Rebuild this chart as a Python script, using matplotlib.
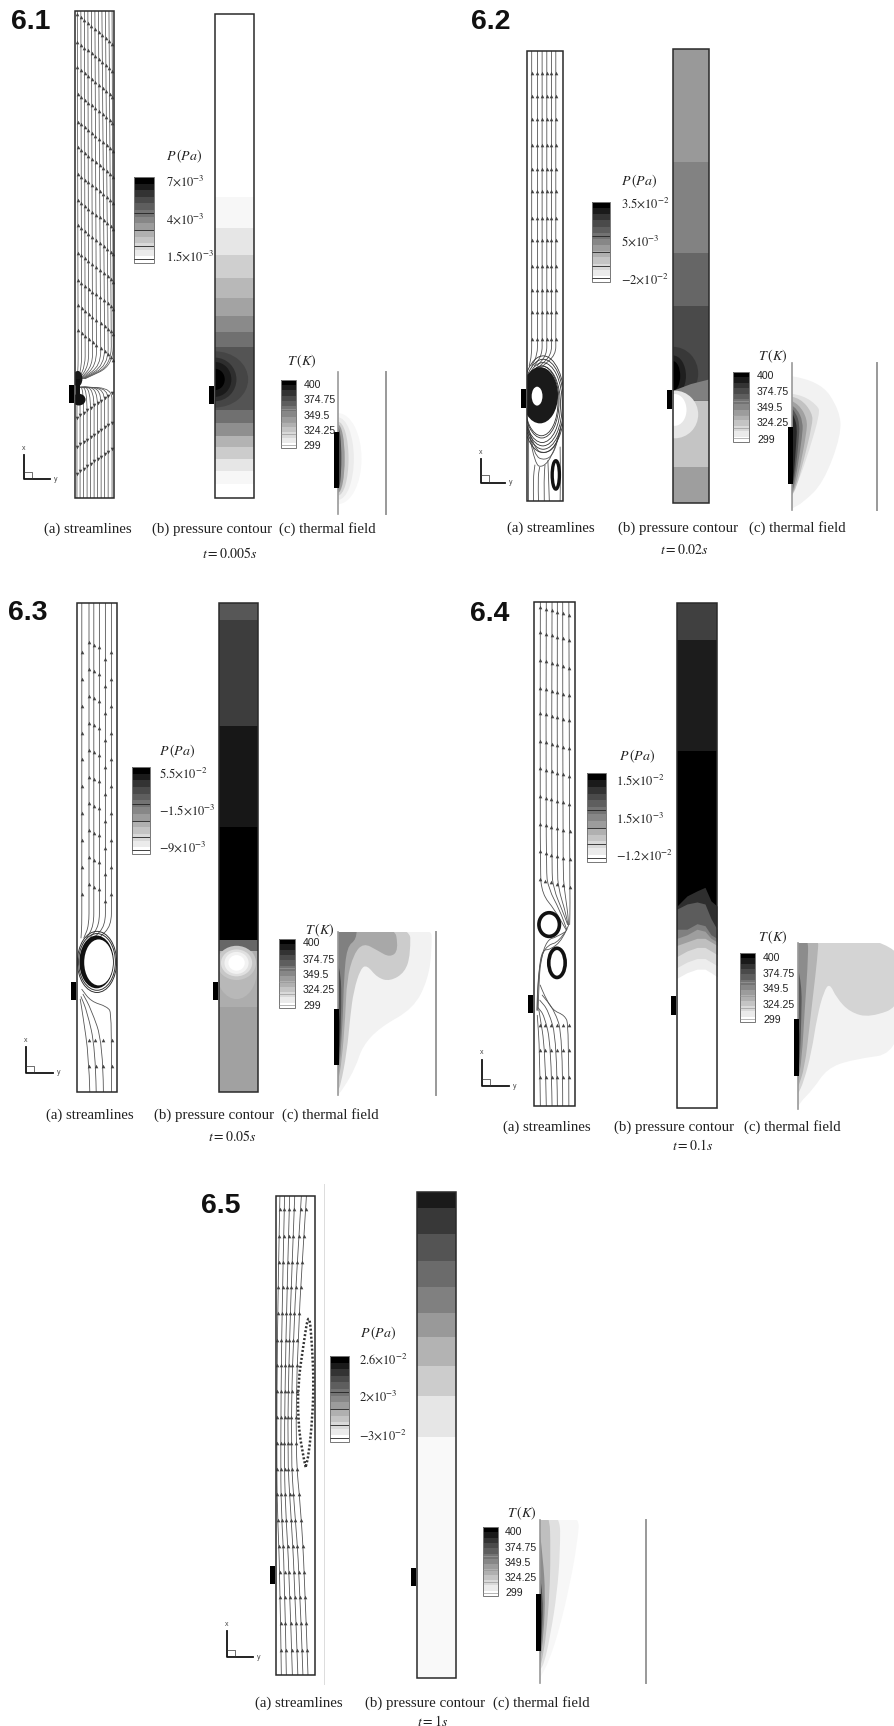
import numpy as np
import matplotlib
matplotlib.use('Agg')
import matplotlib.pyplot as plt
from matplotlib.path import Path
from matplotlib.patches import PathPatch, Ellipse, Rectangle

plt.rcParams['mathtext.fontset'] = 'stix'
W, H = 894, 1726
fig = plt.figure(figsize=(W / 100, H / 100), dpi=100, facecolor='white')

# labels
titles = ['6.1', '6.2', '6.3', '6.4', '6.5']
times = ['$t=0.005s$', '$t=0.02s$', '$t=0.05s$', '$t=0.1s$', '$t=1s$']
p_ticks = [[r'$7{\times}10^{-3}$', r'$4{\times}10^{-3}$', r'$1.5{\times}10^{-3}$'],
           [r'$3.5{\times}10^{-2}$', r'$5{\times}10^{-3}$', r'$-2{\times}10^{-2}$'],
           [r'$5.5{\times}10^{-2}$', r'$-1.5{\times}10^{-3}$', r'$-9{\times}10^{-3}$'],
           [r'$1.5{\times}10^{-2}$', r'$1.5{\times}10^{-3}$', r'$-1.2{\times}10^{-2}$'],
           [r'$2.6{\times}10^{-2}$', r'$2{\times}10^{-3}$', r'$-3{\times}10^{-2}$']]
t_ticks = ['400', '374.75', '349.5', '324.25', '299']
captions = ['(a) streamlines', '(b) pressure contour', '(c) thermal field']

# legend shades, dark to white
legend_grays = [0.0, 0.1, 0.2, 0.29, 0.37, 0.45, 0.53, 0.61, 0.69, 0.77, 0.85, 0.92, 1.0]
legend_lines = [0.05, 0.2, 0.38, 0.58]

# pressure bands: edges along the channel (1 = top), one shade per band
p1_edges = [1, .621, .558, .503, .455, .414, .376, .343, .313, .181, .155, .128, .106, .080, .055, .029, 0]
p1_grays = [1, .97, .90, .81, .72, .64, .54, .44, .33, .44, .56, .70, .80, .90, .97, 1]
p1_spots = [(.85, .058, .27), (.55, .045, .18), (.42, .036, .1), (.25, .022, 0)]
p2_edges = [1, .752, .551, .433, .225, .079, 0]
p2_grays = [.60, .51, .40, .29, .77, .62]
p3_edges = [1, .966, .749, .541, .311, .173, 0]
p3_grays = [.34, .24, .09, 0, .68, .63]
p4_edges = [1, .926, .706, .40, 0]
p4_grays = [.25, .11, 0, 0]
p4_s = [0, .25, .5, .7, .85, 1]
p4_fronts = [([.40, .42, .43, .437, .41, .40], .18),
             ([.394, .404, .408, .404, .375, .354], .36),
             ([.354, .354, .365, .361, .343, .336], .5),
             ([.336, .343, .354, .35, .336, .329], .62),
             ([.322, .329, .336, .336, .329, .322], .75),
             ([.30, .311, .318, .318, .311, .304], .86),
             ([.278, .289, .296, .296, .289, .282], .93),
             ([.257, .268, .275, .275, .268, .26], 1.0)]
p5_edges = [1, .968, .914, .859, .805, .752, .701, .642, .58, .496, 0]
p5_grays = [.1, .22, .33, .42, .5, .6, .7, .8, .9, .975]

# thermal layers: outline points (across, along), one shade each
t1_layers = [(.49, .32, .97), (.33, .29, .92), (.22, .26, .82), (.14, .24, .6), (.07, .22, .3)]
t2_layers = [([(0, .91), (.33, .88), (.56, .68), (.58, .51), (.37, .185), (.13, .05), (0, .01)], .95),
             ([(0, .79), (.13, .78), (.3, .71), (.33, .66), (.2, .40), (.08, .2), (0, .1)], .88),
             ([(0, .77), (.1, .76), (.24, .66), (.24, .58), (.13, .32), (.05, .15), (0, .1)], .76),
             ([(0, .74), (.08, .72), (.18, .62), (.17, .52), (.09, .28), (.03, .14), (0, .11)], .63),
             ([(0, .71), (.06, .69), (.13, .6), (.12, .5), (.06, .27), (.02, .15), (0, .12)], .48),
             ([(0, .69), (.05, .66), (.09, .58), (.08, .48), (.04, .26), (0, .13)], .33),
             ([(0, .66), (.03, .63), (.06, .56), (.05, .46), (.025, .26), (0, .14)], .15)]
t3_layers = [([(0, 1.06), (.95, 1.06), (.96, .9), (.92, .71), (.77, .53), (.43, .416), (.25, .30), (.18, .17), (.06, .045), (0, 0)], .95),
             ([(0, 1.06), (.735, 1.06), (.74, .865), (.685, .753), (.53, .697), (.40, .72), (.295, .798), (.23, .775), (.16, .64), (.125, .483), (.09, .26), (.025, .056), (0, .03)], .8),
             ([(0, 1.06), (.57, 1.06), (.62, .888), (.53, .843), (.40, .888), (.26, .933), (.16, .865), (.09, .708), (.075, .483), (.04, .213), (0, .08)], .66),
             ([(0, 1.06), (.19, 1.06), (.19, .955), (.09, .91), (.06, .708), (.05, .483), (.025, .236), (0, .12)], .5),
             ([(0, .8), (.03, .75), (.035, .55), (.02, .28), (0, .15)], .3),
             ([(0, .58), (.018, .5), (.012, .3), (0, .17)], .12)]
t4_layers = [([(0, 1.06), (1.1, 1.06), (1.1, .34), (.55, .297), (.30, .242), (.16, .121), (.01, .033), (0, 0)], .95),
             ([(0, 1.06), (1.1, 1.06), (1.1, .627), (.75, .55), (.54, .583), (.40, .67), (.33, .758), (.27, .71), (.2, .56), (.14, .34), (.06, .165), (0, .09)], .83),
             ([(0, 1.06), (.22, 1.06), (.2, .9), (.16, .7), (.12, .5), (.07, .25), (0, .13)], .7),
             ([(0, 1.06), (.11, 1.06), (.1, .85), (.07, .6), (.04, .3), (0, .17)], .55),
             ([(0, .85), (.04, .75), (.035, .55), (.02, .3), (0, .19)], .35),
             ([(0, .6), (.015, .5), (.01, .3), (0, .2)], .12)]
t5_layers = [([(0, 1.06), (.38, 1.06), (.35, .85), (.28, .6), (.19, .35), (.09, .14), (0, .03)], .97),
             ([(0, 1.06), (.19, 1.06), (.19, .8), (.16, .55), (.1, .3), (.04, .12), (0, .08)], .88),
             ([(0, 1.06), (.09, 1.06), (.1, .8), (.09, .55), (.06, .3), (.02, .14), (0, .1)], .75),
             ([(0, .92), (.03, .75), (.05, .55), (.035, .3), (0, .13)], .55),
             ([(0, .65), (.03, .55), (.02, .3), (0, .16)], .3),
             ([(0, .57), (.014, .45), (.01, .3), (0, .18)], .1)]

# streamlines of 6.1
s1_top = [.06, .15, .24, .33, .42, .51, .60, .69, .78, .87, .95]
s1_mid = [.08, .17, .26, .35, .45, .55, .66, .76, .85, .93, .98]
s1_turn = [.30, .31, .31, .32, .32, .33, .33, .34, .34, .35, .35]
s1_end = [.06, .08, .10, .12, .14, .16, .18, .20, .22, .24, .26]
s1_rows = [.993, .937, .884, .83, .773, .72, .666, .612, .56, .504, .448, .396, .344]
s1_low = [.05, .13, .22, .31, .40, .49, .58, .67, .76, .85, .95]
s1_low_turn = [.10, .11, .11, .12, .13, .14, .15, .16, .17, .18, .18]
s1_low_rows = [.165, .105, .05]

# streamlines of 6.2
s2_top = [.13, .29, .42, .55, .68, .80]
s2_end = [.06, .13, .20, .28, .36, .44]
s2_rows = [.952, .90, .849, .792, .738, .689, .628, .58, .523, .468, .419, .361]
s2_rings = [(.45, .215, 1.2, .215), (.45, .215, 1.14, .2), (.44, .215, 1.08, .185), (.42, .215, 1.02, .17),
            (.41, .22, .96, .16), (.40, .22, .92, .15)]
s2_low = [[(.05, .16), (.2, .115), (.5, .105), (.8, .12), (.95, .17)],
          [(.07, .15), (.2, .10), (.5, .09), (.75, .105), (.93, .16)],
          [(.08, .14), (.22, .08), (.45, .075), (.7, .1), (.9, .15)],
          [(.18, 0), (.17, .05), (.22, .08)], [(.32, 0), (.3, .05), (.35, .075)],
          [(.48, 0), (.47, .05), (.5, .08)], [(.62, 0), (.6, .05), (.58, .09)],
          [(.92, 0), (.93, .05), (.92, .12)], [(.04, 0), (.05, .08), (.04, .17)]]

# streamlines of 6.3
s3_top = [.12, .30, .42, .56, .71, .86]
s3_end = [.10, .17, .24, .32, .42, .55]
s3_shift = [.0, .02, .015, .01, -.015, .0]
s3_rows = [.90, .845, .79, .735, .68, .625, .57, .515, .46, .405]
s3_low = [[(.32, 0), (.3, .07), (.14, .16), (.08, .19)],
          [(.48, 0), (.46, .09), (.25, .165), (.10, .195)],
          [(.66, 0), (.65, .10), (.35, .17), (.15, .20)],
          [(.86, 0), (.88, .16), (.75, .175), (.35, .185), (.12, .21)]]
s3_low_rows = [.106, .054]
s3_rings = [(.5, .266, .98, .125), (.5, .266, .92, .116)]

# streamlines of 6.4
s4_top = [[(.155, 1), (.14, .47), (.2, .42), (.5, .39), (.78, .35)],
          [(.30, 1), (.28, .47), (.36, .43), (.62, .39), (.8, .35)],
          [(.44, 1), (.42, .47), (.48, .43), (.68, .39), (.82, .36)],
          [(.57, 1), (.56, .47), (.6, .43), (.75, .39), (.83, .36)],
          [(.70, 1), (.70, .47), (.74, .43), (.83, .38), (.84, .36)],
          [(.85, 1), (.87, .47), (.88, .40), (.87, .36)]]
s4_mid = [[(.85, .36), (.7, .33), (.4, .31), (.2, .31), (.12, .27), (.08, .22), (.07, .19)],
          [(.8, .35), (.6, .325), (.35, .32), (.18, .30), (.1, .25), (.08, .19)],
          [(.75, .345), (.55, .335), (.32, .33), (.16, .29), (.12, .24), (.1, .19)]]
s4_low = [[(.155, 0), (.14, .11), (.08, .18)], [(.30, 0), (.28, .11), (.12, .19)],
          [(.44, 0), (.42, .12), (.25, .18), (.1, .195)], [(.57, 0), (.56, .13), (.35, .19), (.14, .21)],
          [(.70, 0), (.70, .14), (.5, .19), (.2, .22)], [(.85, 0), (.85, .16), (.75, .18), (.45, .19), (.25, .22), (.15, .24)]]
s4_rows = [.99, .94, .885, .83, .78, .725, .67, .615, .56, .505, .45]
s4_low_rows = [.16, .111, .058]

# streamlines of 6.5
s5_lines = [[(.137, 0), (.10, .215), (.03, .35), (.02, .46), (.03, .70), (.10, 1)],
            [(.265, 0), (.22, .215), (.13, .35), (.12, .46), (.14, .70), (.22, 1)],
            [(.42, 0), (.34, .215), (.24, .35), (.21, .46), (.25, .70), (.35, 1)],
            [(.56, 0), (.47, .215), (.37, .35), (.29, .46), (.34, .70), (.48, 1)],
            [(.69, 0), (.60, .215), (.47, .35), (.38, .46), (.43, .70), (.65, 1)],
            [(.82, 0), (.73, .215), (.63, .35), (.50, .46), (.55, .70), (.78, 1)]]
s5_rows = [.972, .917, .862, .809, .755, .70, .647, .592, .538, .484, .43, .377, .323, .269, .215, .163, .108, .052]
s5_loop = [(.76, .434), (.65, .475), (.565, .534), (.565, .608), (.69, .682), (.846, .764), (.93, .682),
           (.966, .608), (.93, .534), (.84, .46), (.76, .434)]

# panel placement, picture pixels: left, top, right, bottom
layout = [
    dict(title=(11, 22), stream=(75, 11, 114, 498), press=(215, 14, 254, 498), heat=(.232, .195),
         pbar=(134, 177, 154, 263), plab=(166, 156), pt=(166, [181, 219, 256]),
         tbar=(281, 380, 296, 448), tlab=(287, 361), tt=(304, [385, 400, 416, 431, 446]),
         therm=(338, 372, 386, 514), tright=True, theat=(.574, .185),
         cap=[(88, 529), (212, 529), (327, 529)], time=(230, 554), triad=(24, 479, 455, 50)),
    dict(title=(471, 22), stream=(527, 51, 563, 501), press=(673, 49, 709, 503), heat=(.248, .207),
         pbar=(592, 202, 610, 282), plab=(621, 181), pt=(621, [203, 241, 279]),
         tbar=(733, 372, 749, 442), tlab=(758, 356), tt=(757, [376, 392, 408, 423, 440]),
         therm=(792, 363, 877, 510), tright=True, theat=(.563, .175),
         cap=[(551, 528), (678, 528), (797, 528)], time=(684, 550), triad=(481, 482, 459, 505)),
    dict(title=(8, 613), stream=(77, 603, 117, 1092), press=(219, 603, 258, 1092), heat=(.225, .189),
         pbar=(132, 767, 150, 854), plab=(159, 751), pt=(159, [773, 810, 847]),
         tbar=(279, 939, 295, 1008), tlab=(305, 930), tt=(303, [943, 960, 975, 990, 1006]),
         therm=(338, 932, 436, 1095), tright=True, theat=(.528, .187),
         cap=[(90, 1115), (214, 1115), (330, 1115)], time=(232, 1136), triad=(26, 1073, 1047, 53)),
    dict(title=(470, 614), stream=(534, 602, 575, 1106), press=(677, 603, 717, 1108), heat=(.221, .184),
         pbar=(587, 773, 606, 862), plab=(619, 756), pt=(616, [780, 818, 855]),
         tbar=(740, 953, 755, 1022), tlab=(758, 937), tt=(763, [958, 974, 989, 1005, 1020]),
         therm=(798, 943, 894, 1109), tright=False, theat=(.543, .2),
         cap=[(547, 1127), (674, 1127), (792, 1127)], time=(693, 1145), triad=(482, 1086, 1060, 509)),
    dict(title=(201, 1206), stream=(276, 1196, 315, 1675), press=(417, 1192, 456, 1678), heat=(.227, .189),
         pbar=(330, 1356, 349, 1442), plab=(360, 1333), pt=(359, [1359, 1396, 1435]),
         tbar=(483, 1527, 498, 1596), tlab=(507, 1513), tt=(505, [1532, 1548, 1563, 1578, 1593]),
         therm=(540, 1520, 646, 1683), tright=True, theat=(.545, .198),
         cap=[(299, 1703), (425, 1703), (541, 1703)], time=(433, 1721), triad=(227, 1657, 1631, 253)),
]


def px_axes(box, z=1):
    x0, y0, x1, y1 = box
    ax = fig.add_axes([x0 / W, 1 - y1 / H, (x1 - x0) / W, (y1 - y0) / H], zorder=z)
    ax.set_xlim(0, 1)
    ax.set_ylim(0, 1)
    ax.axis('off')
    return ax


def px_text(x, y, s, **kw):
    kw.setdefault('va', 'center')
    fig.text(x / W, 1 - y / H, s, zorder=20, **kw)


def smooth(pts, closed=False):
    pts = np.array(pts, dtype=float)
    verts, codes = [pts[0]], [Path.MOVETO]
    for i in range(1, len(pts) - 1):
        verts += [pts[i], (pts[i] + pts[i + 1]) / 2]
        codes += [Path.CURVE3, Path.CURVE3]
    verts.append(pts[-1])
    codes.append(Path.LINETO)
    if closed:
        verts.append(pts[0])
        codes.append(Path.CLOSEPOLY)
    return Path(verts, codes)


def stream(ax, pts, lw=.6, color='#555555', ls='-', cap='round'):
    ax.add_patch(PathPatch(smooth(pts), fc='none', ec=color, lw=lw, ls=ls, capstyle=cap))


def heads(ax, lines, rows, shifts=None, slope=0, marker='^'):
    for j, line in enumerate(lines):
        pts = np.array(line, dtype=float)
        order = np.argsort(pts[:, 1])
        for r in rows:
            h = r - slope * j / (len(lines) - 1)
            if shifts is not None:
                h += shifts[j]
            s = np.interp(h, pts[order, 1], pts[order, 0])
            ax.plot(s, h, marker, ms=2.6, color='#444444', mew=0, zorder=5)


def frame(ax, lw=1.1):
    ax.add_patch(Rectangle((0, 0), 1, 1, fc='none', ec='#2a2a2a', lw=lw, clip_on=False, zorder=8))


def gray(v):
    return str(v)


def bands(ax, edges, grays):
    for k in range(len(grays)):
        ax.fill_between([0, 1], edges[k + 1], edges[k], color=gray(grays[k]), lw=0)


def layers(ax, items):
    for pts, g in items:
        ax.add_patch(PathPatch(smooth(pts, closed=True), fc=gray(g), ec='none'))


def legend_bar(box, line_color, line_width):
    ax = px_axes(box, 3)
    n = len(legend_grays)
    ax.barh(np.arange(n)[::-1] / n, 1, height=1 / n, align='edge', color=[gray(g) for g in legend_grays], lw=0)
    ax.hlines(legend_lines, 0, 1, color=line_color, lw=line_width)
    ax.add_patch(Rectangle((0, 0), 1, 1, fc='none', ec='#777777', lw=.7, clip_on=False))


# ---- stream panels
ax = px_axes(layout[0]['stream'])
lines1 = []
for t, m, tn, e in zip(s1_top, s1_mid, s1_turn, s1_end):
    pts = [(t, 1), (m, tn), (m, .272), (e, .245)]
    stream(ax, pts, lw=.55)
    lines1.append(pts[:2])
heads(ax, lines1, s1_rows, slope=.06)
low1 = []
for b, tn, e in zip(s1_low, s1_low_turn, s1_end):
    pts = [(b, 0), (b, tn), (b, .225), (e, .228)]
    stream(ax, pts, lw=.55)
    low1.append(pts[:2])
heads(ax, low1, s1_low_rows, slope=-.05, marker='v')
ax.add_patch(Ellipse((.07, .245), .24, .032, fc='#1a1a1a', ec='none', zorder=4))
ax.add_patch(Ellipse((.10, .202), .34, .024, fc='#111111', ec='none', zorder=4))
ax.add_patch(Rectangle((.02, .205), .1, .04, fc='#111111', ec='none', zorder=4))

ax = px_axes(layout[1]['stream'])
lines2 = []
for t, e in zip(s2_top, s2_end):
    pts = [(t, 1), (t, .36), (t, .325), (e, .30)]
    stream(ax, pts)
    lines2.append(pts[:2])
heads(ax, lines2, s2_rows)
for x, y, w, h in s2_rings:
    ax.add_patch(Ellipse((x, y), w, h, fc='none', ec='#333333', lw=.6, zorder=2))
ax.add_patch(Ellipse((.36, .235), 1.0, .125, fc='#1a1a1a', ec='none', zorder=3))
ax.add_patch(Ellipse((.28, .233), .30, .042, fc='white', ec='none', zorder=4))
for line in s2_low:
    stream(ax, line)
ax.add_patch(Ellipse((.80, .058), .2, .063, fc='none', ec='#111111', lw=2.4, zorder=4))

ax = px_axes(layout[2]['stream'])
lines3 = []
for t, e in zip(s3_top, s3_end):
    pts = [(t, 1), (t, .39), (t, .34), (e, .315)]
    stream(ax, pts)
    lines3.append(pts[:2])
heads(ax, lines3, s3_rows, shifts=s3_shift)
for x, y, w, h in s3_rings:
    ax.add_patch(Ellipse((x, y), w, h, fc='none', ec='#333333', lw=.7, zorder=3))
ax.add_patch(Ellipse((.49, .266), .86, .108, fc='#111111', ec='none', zorder=3))
ax.add_patch(Ellipse((.54, .265), .72, .094, fc='white', ec='none', zorder=4))
for line in s3_low:
    stream(ax, line)
heads(ax, [l[:2] for l in s3_low], s3_low_rows)

ax = px_axes(layout[3]['stream'])
for line in s4_top + s4_mid + s4_low:
    stream(ax, line)
heads(ax, [l[:2] for l in s4_top], s4_rows, slope=.015)
heads(ax, [l[:2] for l in s4_low], s4_low_rows)
ax.add_patch(Ellipse((.37, .36), .50, .047, fc='none', ec='#111111', lw=2.6, zorder=4))
ax.add_patch(Ellipse((.56, .284), .40, .058, fc='none', ec='#111111', lw=2.6, zorder=4))

ax = px_axes(layout[4]['stream'])
for line in s5_lines:
    stream(ax, line)
heads(ax, s5_lines, s5_rows)
stream(ax, s5_loop, lw=1.8, color='#333333', ls=(0, (.8, .8)), cap='butt')

# ---- pressure panels
ax = px_axes(layout[0]['press'])
bands(ax, p1_edges, p1_grays)
for rx, ry, g in p1_spots:
    ax.add_patch(Ellipse((0, .245), 2 * rx, 2 * ry, fc=gray(g), ec='none'))

ax = px_axes(layout[1]['press'])
bands(ax, p2_edges, p2_grays)
ax.add_patch(Ellipse((0, .285), 1.4, .118, fc=gray(.22), ec='none'))
ax.add_patch(Ellipse((0, .28), .72, .09, fc=gray(.12), ec='none'))
ax.add_patch(Ellipse((0, .28), .4, .065, fc=gray(0), ec='none'))
ax.fill([0, .5, 1, 1, .5, 0], [.247, .262, .272, .225, .225, .2], color=gray(.5), lw=0)
ax.add_patch(Ellipse((.05, .195), 1.3, .105, fc=gray(.9), ec='none'))
ax.add_patch(Ellipse((.05, .205), .65, .07, fc=gray(1), ec='none'))

ax = px_axes(layout[2]['press'])
bands(ax, p3_edges, p3_grays)
ax.add_patch(Ellipse((.45, .25), 1.05, .12, fc=gray(.72), ec='none', clip_on=True))
ax.add_patch(Rectangle((0, .288), 1, .023, fc=gray(.4), ec='none'))
for w, h, g in [(1.0, .07, .78), (.8, .055, .88), (.62, .045, .95), (.42, .032, 1.0)]:
    ax.add_patch(Ellipse((.45, .264), w, h, fc=gray(g), ec='none'))

ax = px_axes(layout[3]['press'])
bands(ax, p4_edges, p4_grays)
for fr, g in p4_fronts:
    ax.fill_between(p4_s, 0, fr, color=gray(g), lw=0)

ax = px_axes(layout[4]['press'])
bands(ax, p5_edges, p5_grays)

for i, pl in enumerate(layout):
    sax = fig.axes[i]
    frame(sax)
    pax = fig.axes[i + 5]
    frame(pax)
    # heater, drawn on the wall side of both channels
    for a, box in ((sax, pl['stream']), (pax, pl['press'])):
        w = box[2] - box[0]
        a.add_patch(Rectangle((-6 / w, pl['heat'][1]), 4.6 / w, pl['heat'][0] - pl['heat'][1],
                              fc='black', ec='none', clip_on=False, zorder=9))

# ---- thermal panels
therm_sets = [None, t2_layers, t3_layers, t4_layers, t5_layers]
for i, pl in enumerate(layout):
    ax = px_axes(pl['therm'], 2)
    if i == 0:
        for rx, ry, g in t1_layers:
            ax.add_patch(Ellipse((0, .39), 2 * rx, 2 * ry, fc=gray(g), ec='none'))
    else:
        layers(ax, therm_sets[i])
    ax.plot([0, 0], [0, 1], color='#999999', lw=1.2, clip_on=False, zorder=6)
    if pl['tright']:
        ax.plot([1, 1], [0, 1], color='#999999', lw=1.4, clip_on=False, zorder=6)
    w = pl['therm'][2] - pl['therm'][0]
    ax.add_patch(Rectangle((-4 / w, pl['theat'][1]), 4.5 / w, pl['theat'][0] - pl['theat'][1],
                           fc='black', ec='none', clip_on=False, zorder=9))

# ---- legends and text
for i, pl in enumerate(layout):
    legend_bar(pl['pbar'], '#222222', .6)
    legend_bar(pl['tbar'], '#999999', .5)
    px_text(pl['title'][0], pl['title'][1], titles[i], family='Liberation Sans', weight='bold', fontsize=20.5, color='#111111')
    px_text(pl['plab'][0], pl['plab'][1], r'$P\,(Pa)$', fontsize=10, color='#222222')
    px_text(pl['tlab'][0], pl['tlab'][1], r'$T\,(K)$', fontsize=10, color='#222222')
    for y, lab in zip(pl['pt'][1], p_ticks[i]):
        px_text(pl['pt'][0], y, lab, fontsize=9, color='#222222')
    for y, lab in zip(pl['tt'][1], t_ticks):
        px_text(pl['tt'][0], y, lab, family='Liberation Sans', fontsize=7.6, color='#222222')
    for (x, y), lab in zip(pl['cap'], captions):
        px_text(x, y, lab, family='Liberation Serif', fontsize=10.7, ha='center', color='#222222')
    px_text(pl['time'][0], pl['time'][1], times[i], fontsize=10, ha='center', color='#222222')
    # axis triad
    ox, oy, ty, rx = pl['triad']
    tri = px_axes((ox - 1, ty, rx, oy + 1), 4)
    tri.plot([.02, .02, 1], [1, .02, .02], color='#111111', lw=1.3, clip_on=False)
    wd, ht = rx - ox + 1, oy + 1 - ty
    tri.plot([.02, 9 / wd, 9 / wd, .02], [8 / ht, 8 / ht, .02, .02], color='#333333', lw=.5)
    px_text(ox, ty - 7, 'x', family='Liberation Sans', fontsize=5, ha='center', color='#444444')
    px_text(rx + 6, oy, 'y', family='Liberation Sans', fontsize=5, ha='center', color='#444444')

# grey rule right of the 6.5 streamlines
rule = px_axes((324, 1184, 325, 1685), 1)
rule.plot([.5, .5], [0, 1], color='#dddddd', lw=1.6)

fig.savefig('out.png', dpi=100, facecolor='white')
